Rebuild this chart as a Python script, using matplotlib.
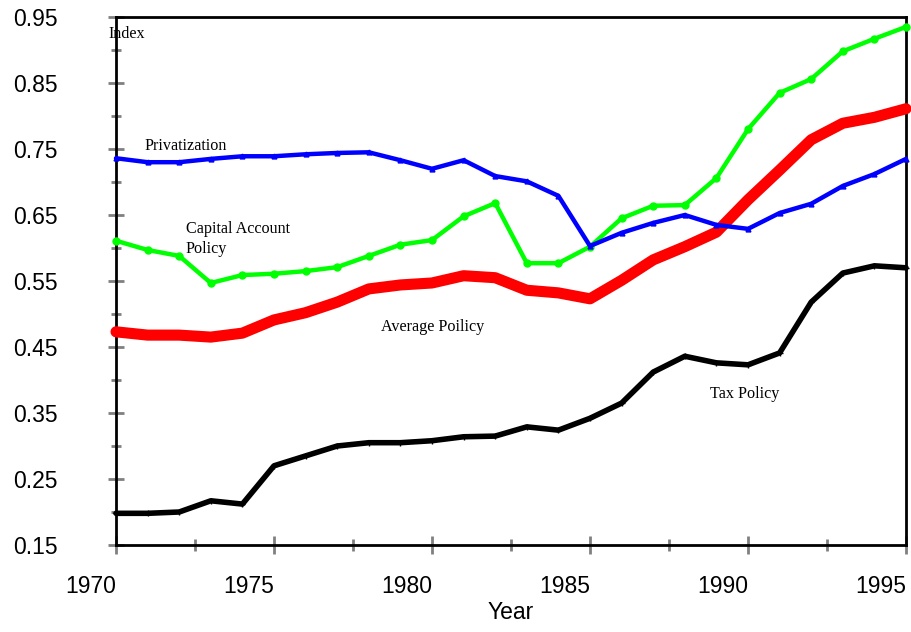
import matplotlib
matplotlib.use("Agg")
import matplotlib.pyplot as plt
from matplotlib.ticker import FixedLocator

years = list(range(1970, 1996))

privatization = [0.736, 0.730, 0.730, 0.735, 0.739, 0.739, 0.742, 0.744, 0.745, 0.733,
                 0.720, 0.733, 0.709, 0.701, 0.679, 0.603, 0.623, 0.638, 0.650, 0.635,
                 0.629, 0.653, 0.667, 0.694, 0.712, 0.735]
capital_account = [0.611, 0.597, 0.588, 0.547, 0.559, 0.561, 0.565, 0.571, 0.588, 0.605,
                   0.612, 0.648, 0.668, 0.577, 0.577, 0.602, 0.645, 0.664, 0.665, 0.706,
                   0.780, 0.835, 0.856, 0.898, 0.917, 0.935]
average_policy = [0.473, 0.468, 0.468, 0.465, 0.471, 0.491, 0.502, 0.518, 0.538, 0.544,
                  0.547, 0.558, 0.555, 0.536, 0.532, 0.523, 0.551, 0.582, 0.602, 0.624,
                  0.673, 0.718, 0.764, 0.789, 0.798, 0.811]
tax_policy = [0.198, 0.198, 0.200, 0.217, 0.212, 0.270, 0.285, 0.300, 0.305, 0.305,
              0.308, 0.314, 0.315, 0.329, 0.324, 0.342, 0.365, 0.412, 0.436, 0.426,
              0.423, 0.441, 0.518, 0.562, 0.573, 0.570]

ytick_major = [0.15, 0.25, 0.35, 0.45, 0.55, 0.65, 0.75, 0.85, 0.95]
ytick_minor = [0.20, 0.30, 0.40, 0.50, 0.60, 0.70, 0.80, 0.90]
xtick_major = [1970, 1975, 1980, 1985, 1990, 1995]
xtick_minor = [1972.5, 1977.5, 1982.5, 1987.5, 1992.5]

fig = plt.figure(figsize=(9.12, 6.32), dpi=100)
ax = fig.add_axes([116 / 912, 87 / 632, 790 / 912, 528 / 632])

ax.plot(years, tax_policy, color="black", lw=4, marker="+", ms=5, mew=1,
        solid_capstyle="round", clip_on=False, zorder=3)
ax.plot(years, average_policy, color="#ff0000", lw=8, marker="o", ms=3,
        solid_capstyle="round", clip_on=False, zorder=3)
ax.plot(years, capital_account, color="#00ff00", lw=3.2, marker="o", ms=5,
        solid_capstyle="round", clip_on=False, zorder=3)
ax.plot(years, privatization, color="#0000ff", lw=3.2, marker="^", ms=3.5,
        solid_capstyle="round", clip_on=False, zorder=3)

ax.set_xlim(1970, 1995)
ax.set_ylim(0.15, 0.95)

ax.xaxis.set_major_locator(FixedLocator(xtick_major))
ax.xaxis.set_minor_locator(FixedLocator(xtick_minor))
ax.yaxis.set_major_locator(FixedLocator(ytick_major))
ax.yaxis.set_minor_locator(FixedLocator(ytick_minor))
ax.set_yticklabels(["%.2f" % v for v in ytick_major])
ax.set_xticklabels([str(v) for v in xtick_major])

for sp in ax.spines.values():
    sp.set_linewidth(2)
    sp.set_color("black")

ax.tick_params(axis="both", which="both", direction="inout", color="#808080", width=2)
ax.tick_params(axis="y", which="major", length=12, pad=36, labelsize=16.5)
ax.tick_params(axis="y", which="minor", length=7)
ax.tick_params(axis="x", which="major", length=13, pad=15, labelsize=16.5)
ax.tick_params(axis="x", which="minor", length=9)
for lab in ax.get_xticklabels() + ax.get_yticklabels():
    lab.set_fontfamily("Liberation Sans")
for lab in ax.get_xticklabels():
    lab.set_horizontalalignment("right")

ax.set_xlabel("Year", fontsize=16.5, fontfamily="Liberation Sans", labelpad=2)

serif = dict(fontsize=11.6, fontfamily="Liberation Serif", color="black")
ax.text(1969.75, 0.924, "Index", ha="left", va="center", **serif)
ax.text(1970.9, 0.755, "Privatization", ha="left", va="center", **serif)
ax.text(1972.2, 0.614, "Capital Account\nPolicy", ha="left", va="center",
        linespacing=1.3, **serif)
ax.text(1978.4, 0.480, "Average Poilicy", ha="left", va="center", **serif)
ax.text(1988.8, 0.379, "Tax Policy", ha="left", va="center", **serif)

fig.savefig("out.png", dpi=100)
